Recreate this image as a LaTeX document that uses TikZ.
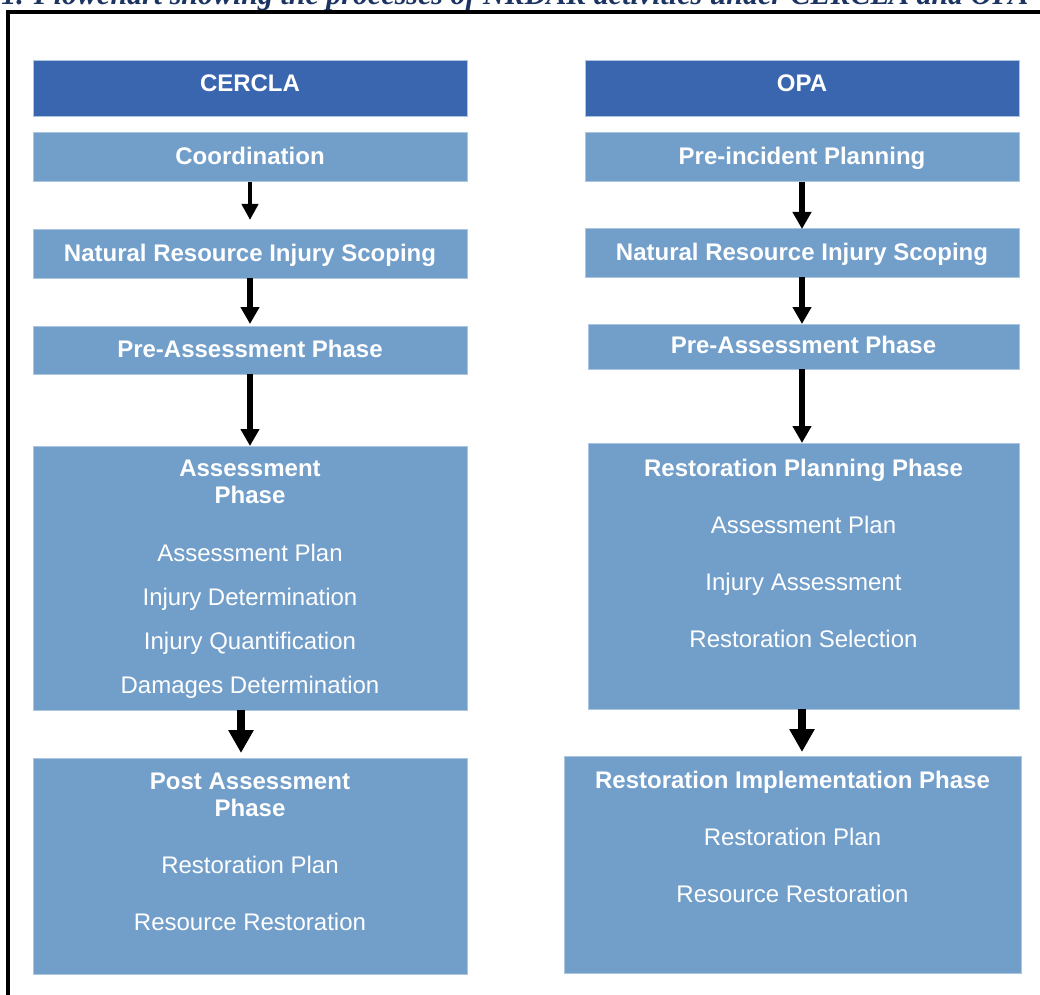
\documentclass[tikz,border=0pt]{standalone}
\usepackage{fontspec}
\setmainfont{Liberation Sans}
\newfontfamily\capfont{Liberation Serif}
\usetikzlibrary{positioning,arrows.meta,calc}
\definecolor{hdrblue}{RGB}{58,101,175}
\definecolor{boxblue}{RGB}{114,158,202}
\definecolor{boxedge}{RGB}{172,198,226}
\definecolor{capnavy}{RGB}{28,52,98}
\tikzset{
  hdr/.style={rectangle, fill=hdrblue, draw=boxedge, line width=0.5pt, text=white,
              font=\bfseries\fontsize{12}{13.5}\selectfont, minimum width=217pt,
              minimum height=28pt, inner sep=0pt, outer sep=0pt, anchor=north west,
              text height=9pt, text depth=6.5pt},
  stage/.style={hdr, fill=boxblue, minimum height=24pt, text height=8.6pt, text depth=1.4pt},
  phase/.style={stage},
  phasetxt/.style={anchor=north, inner sep=0pt, align=center, text=white,
                   font=\fontsize{12}{13.5}\selectfont},
  flow/.style={-{Triangle[width=9pt,length=8.5pt]}, line width=2.6pt},
  thinflow/.style={-{Triangle[width=8pt,length=8pt]}, line width=2pt},
  bigflow/.style={-{Triangle[width=12pt,length=11.5pt]}, line width=4.2pt}
}

\begin{document}
\begin{tikzpicture}[x=0.5pt, y=-0.5pt]
\useasboundingbox (0,0) rectangle (1040,995);
\clip (0,0) rectangle (1040,995);

% caption, cut off at the top of the frame
\node[anchor=base west, inner sep=0pt, text=capnavy,
      font=\capfont\bfseries\itshape\fontsize{15}{18}\selectfont] (figcap) at (1,5)
  {1. Flowchart showing the processes of NRDAR activities under CERCLA and OPA};
\draw[line width=2pt] (8,1000) -- (8,12) -- (1045,12);

% CERCLA column
\node[hdr] (cercla) at (33,61) {CERCLA};
\node[stage, minimum height=24.5pt] (coord) at ($(cercla.south west)+(0,16)$) {Coordination};
\node[stage] (scopeL) at ($(coord.south west)+(0,48)$) {Natural Resource Injury Scoping};
\node[stage] (preL) at ($(scopeL.south west)+(0,48)$) {Pre-Assessment Phase};
\node[phase, minimum height=132pt] (assess) at ($(preL.south west)+(0,72)$) {};
\node[phase, minimum height=108pt] (post) at ($(assess.south west)+(0,48)$) {};
\node[phasetxt] (assess-t) at ($(assess.north)+(0,14)$)
  {\textbf{Assessment}\\\textbf{Phase}\\[15.25pt]
   Assessment Plan\\[8.5pt]Injury Determination\\[8.5pt]
   Injury Quantification\\[8.5pt]Damages Determination};
\node[phasetxt] (post-t) at ($(post.north)+(0,15)$)
  {\textbf{Post Assessment}\\\textbf{Phase}\\[15pt]
   Restoration Plan\\[15pt]Resource Restoration};

% OPA column
\node[hdr] (opa) at (585,61) {OPA};
\node[stage, minimum height=24.5pt] (preinc) at ($(opa.south west)+(0,16)$) {Pre-incident Planning};
\node[stage] (scopeR) at ($(preinc.south west)+(0,47)$) {Natural Resource Injury Scoping};
\node[stage, minimum width=215.5pt, minimum height=22.5pt] (preR) at ($(scopeR.south west)+(3,47)$) {Pre-Assessment Phase};
\node[phase, minimum width=215.5pt, minimum height=133pt] (restplan) at ($(preR.south west)+(0,74)$) {};
\node[phase, minimum width=228.5pt, minimum height=108.5pt] (restimpl) at ($(restplan.south west)+(-24,47)$) {};
\node[phasetxt] (restplan-t) at ($(restplan.north)+(0,16)$)
  {\textbf{Restoration Planning Phase}\\[15pt]
   Assessment Plan\\[15pt]Injury Assessment\\[15pt]Restoration Selection};
\node[phasetxt] (restimpl-t) at ($(restimpl.north)+(0,15)$)
  {\textbf{Restoration Implementation Phase}\\[15pt]
   Restoration Plan\\[15pt]Resource Restoration};

% arrows
\draw[thinflow] (coord.south) -- ([yshift=5pt]scopeL.north);
\draw[flow] (scopeL.south) -- ([yshift=1pt]preL.north);
\draw[flow] (preL.south) -- (assess.north);
\draw[bigflow] ([xshift=-4.5pt]assess.south) -- ([xshift=-4.5pt,yshift=2.5pt]post.north);
\draw[flow] (preinc.south) -- (scopeR.north);
\draw[flow] (scopeR.south) -- (scopeR.south |- preR.north);
\draw[flow] (scopeR.south |- preR.south) -- (scopeR.south |- restplan.north);
\draw[bigflow] (scopeR.south |- restplan.south) -- ([yshift=2pt]scopeR.south |- restimpl.north);
\end{tikzpicture}
\end{document}
